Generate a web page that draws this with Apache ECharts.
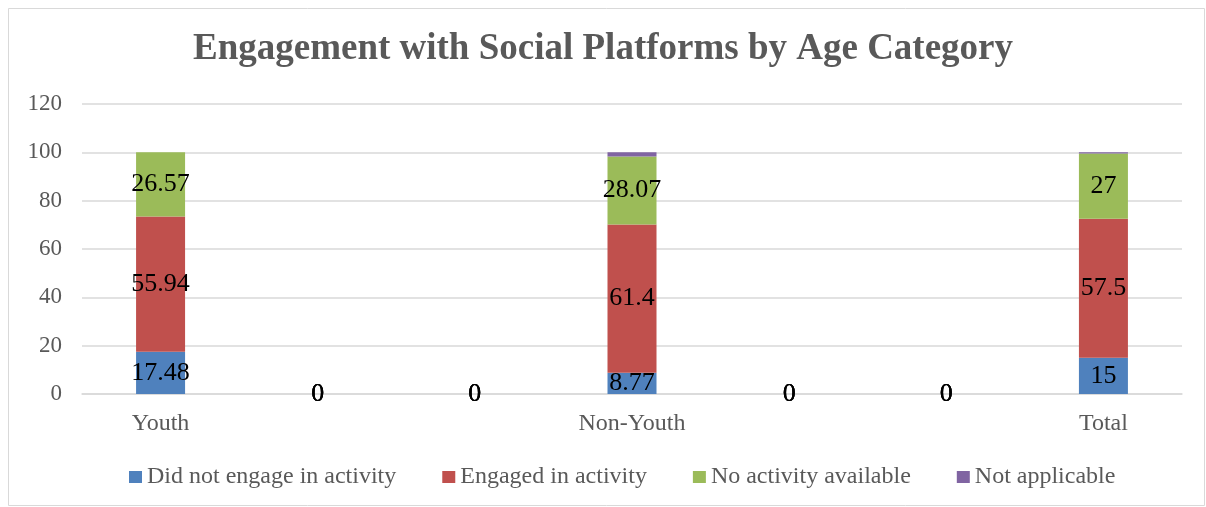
<!DOCTYPE html>
<html>
<head>
<meta charset="utf-8">
<script src="https://cdn.jsdelivr.net/npm/echarts@6/dist/echarts.min.js"></script>
<style>
  html, body { margin: 0; padding: 0; background: #ffffff; }
  #chart { width: 1206px; height: 507px; }
</style>
</head>
<body>
<div id="chart"></div>
<script>
// Categories (blank slots carry zero values, labelled "0")
const categories = ['Youth', '', '', 'Non-Youth', '', '', 'Total'];

// Series values per category (percent)
const didNotEngage = [17.48, 0, 0, 8.77, 0, 0, 15];
const engaged = [55.94, 0, 0, 61.4, 0, 0, 57.5];
const noActivity = [26.57, 0, 0, 28.07, 0, 0, 27];
const notApplicable = [0, 0, 0, 1.76, 0, 0, 0.5];

const seriesNames = ['Did not engage in activity', 'Engaged in activity', 'No activity available', 'Not applicable'];
const seriesColors = ['#4F81BD', '#C0504D', '#9BBB59', '#8064A2'];

// Y-axis ticks
const yMin = 0, yMax = 120, yStep = 20;

const serif = '"Liberation Serif", "DejaVu Serif", serif';
const textGray = '#595959';

const chart = echarts.init(document.getElementById('chart'), null, { renderer: 'canvas' });

function makeSeries(name, data, color, showLabel) {
  return {
    name: name,
    type: 'bar',
    stack: 'total',
    data: data,
    barWidth: 49,
    itemStyle: { color: color },
    label: {
      show: showLabel,
      position: 'inside',
      color: '#000000',
      fontFamily: serif,
      fontSize: 26,
      formatter: p => String(p.value)
    },
    emphasis: { disabled: true }
  };
}

chart.setOption({
  animation: false,
  backgroundColor: '#ffffff',
  title: {
    text: 'Engagement with Social Platforms by Age Category',
    left: 'center',
    top: 26,
    textStyle: { fontFamily: serif, fontSize: 37, fontWeight: 'bold', color: textGray }
  },
  grid: { left: 82, right: 24, top: 104, bottom: 113, containLabel: false },
  legend: {
    bottom: 13,
    left: 124,
    itemWidth: 13,
    itemHeight: 12,
    itemGap: 46,
    icon: 'rect',
    textStyle: { fontFamily: serif, fontSize: 24, color: textGray },
    data: seriesNames
  },
  xAxis: {
    type: 'category',
    data: categories,
    axisLine: { show: true, lineStyle: { color: '#d9d9d9', width: 1.5 } },
    axisTick: { show: false },
    axisLabel: { fontFamily: serif, fontSize: 24, color: textGray, margin: 18, interval: 0 },
    splitLine: { show: false }
  },
  yAxis: {
    type: 'value',
    min: yMin,
    max: yMax,
    interval: yStep,
    axisLine: { show: false },
    axisTick: { show: false },
    axisLabel: { fontFamily: serif, fontSize: 23, color: textGray, margin: 20 },
    splitLine: { lineStyle: { color: '#d9d9d9', width: 1.5 } }
  },
  graphic: [{
    type: 'rect',
    shape: { x: 8.5, y: 8.5, width: 1196, height: 497 },
    style: { fill: 'none', stroke: '#d9d9d9', lineWidth: 1 },
    silent: true
  }],
  series: [
    makeSeries(seriesNames[0], didNotEngage, seriesColors[0], true),
    makeSeries(seriesNames[1], engaged, seriesColors[1], true),
    makeSeries(seriesNames[2], noActivity, seriesColors[2], true),
    makeSeries(seriesNames[3], notApplicable, seriesColors[3], false)
  ]
});
</script>
</body>
</html>
